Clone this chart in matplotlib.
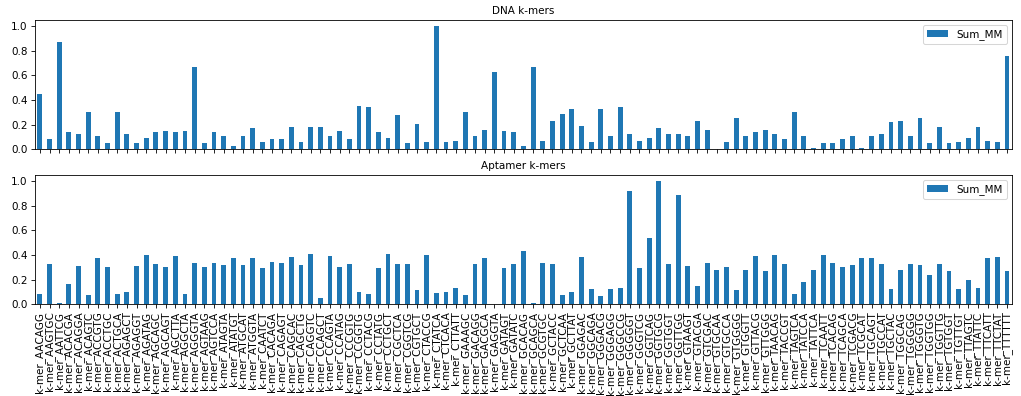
import numpy as np
import matplotlib
matplotlib.use("Agg")
import matplotlib.pyplot as plt

kmers = ["AACAGG","AAGTGC","AATTCG","ACACGA","ACAGGA","ACAGTC","ACCGTG","ACCTGC","ACTGCA","AGAGCT",
         "AGAGGT","AGATAG","AGCAGC","AGCAGT","AGCTTA","AGGCTA","AGGGTA","AGTAAG","AGTCCA","ATAGTA",
         "ATATGT","ATGCAT","ATGGTA","CAATCT","CACAGA","CAGAGT","CAGCAC","CAGCTG","CAGGTC","CCAGCT",
         "CCAGTA","CCATAG","CCCGTG","CCGGTG","CCTACG","CCTATG","CCTGCT","CGCTCA","CGGTCG","CGTGCT",
         "CTACCG","CTATCA","CTCACA","CTTATT","GAAAGC","GACAGG","GACGCA","GAGGTA","GATAGT","GATATC",
         "GCACAG","GCAGCA","GCGTGC","GCTACC","GCTCAA","GCTTAT","GGAGAC","GGCAGA","GGGACG","GGGAGG",
         "GGGCCG","GGGGGT","GGGTCG","GGTCAG","GGTGCG","GGTGGT","GGTTGG","GTAAGT","GTACGA","GTCGAC",
         "GTGCAA","GTGCCA","GTGGGG","GTGGTT","GTTACG","GTTGGG","TAACAG","TACCGT","TAGTCA","TATCCA",
         "TATTCA","TCAATT","TCACAG","TCAGCA","TCGACG","TCGCAT","TGCAGT","TGCCAT","TGCTAC","TGGCAG",
         "TGGGGG","TGGGTG","TGGTGG","TGGTTG","TGTGGT","TGTTGT","TTAGTC","TTATTC","TTCATT","TTCTAT",
         "TTTTTT"]
labels = ["k-mer_" + k for k in kmers]

dna_mm = [0.45,0.086,0.87,0.14,0.127,0.30,0.11,0.05,0.305,0.127,
          0.05,0.09,0.14,0.15,0.14,0.15,0.665,0.05,0.14,0.11,
          0.03,0.105,0.17,0.057,0.086,0.086,0.18,0.057,0.18,0.18,
          0.11,0.15,0.084,0.354,0.34,0.14,0.09,0.275,0.05,0.205,
          0.057,1.0,0.057,0.07,0.305,0.11,0.16,0.624,0.15,0.14,
          0.03,0.665,0.07,0.227,0.284,0.327,0.19,0.057,0.327,0.105,
          0.34,0.127,0.07,0.09,0.17,0.127,0.127,0.11,0.227,0.16,
          0.0,0.057,0.25,0.105,0.14,0.16,0.127,0.084,0.305,0.11,
          0.014,0.05,0.05,0.084,0.11,0.014,0.11,0.127,0.22,0.227,
          0.11,0.25,0.05,0.18,0.05,0.057,0.09,0.18,0.07,0.057,
          0.757]

apt_mm = [0.08,0.324,0.01,0.162,0.308,0.073,0.378,0.30,0.081,0.103,
          0.308,0.40,0.33,0.30,0.395,0.081,0.338,0.30,0.338,0.316,
          0.373,0.316,0.373,0.295,0.343,0.338,0.386,0.316,0.408,0.054,
          0.395,0.30,0.33,0.097,0.081,0.295,0.408,0.324,0.324,0.116,
          0.40,0.089,0.103,0.13,0.076,0.324,0.378,0.0,0.295,0.324,
          0.43,0.01,0.338,0.324,0.076,0.097,0.386,0.124,0.068,0.124,
          0.13,0.92,0.295,0.535,1.0,0.324,0.886,0.308,0.146,0.338,
          0.281,0.30,0.116,0.281,0.395,0.273,0.40,0.324,0.081,0.18,
          0.281,0.40,0.338,0.30,0.316,0.373,0.373,0.324,0.124,0.281,
          0.33,0.316,0.238,0.324,0.273,0.124,0.195,0.132,0.373,0.386,
          0.268]

titles = ["DNA k-mers", "Aptamer k-mers"]

fig, axes = plt.subplots(2, 1, sharex=True, figsize=(1021/75, 396/75), dpi=75)
fig.subplots_adjust(left=0.0343, right=0.991, top=0.9495, bottom=0.2316, hspace=0.199)

x = np.arange(len(labels))
for ax, vals, t in zip(axes, [dna_mm, apt_mm], titles):
    ax.bar(x, vals, width=0.5, color="#1f77b4", label="Sum_MM")
    ax.set_title(t, fontsize=10)
    ax.legend(loc="upper right")
    ax.set_xlim(-0.5, len(labels) - 0.5)

axes[1].set_xticks(x)
axes[1].set_xticklabels(labels, rotation=90)

fig.savefig("out.png", dpi=75)
